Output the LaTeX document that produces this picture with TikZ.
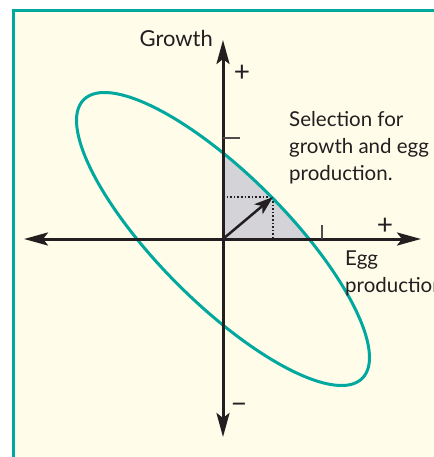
\documentclass[tikz,border=0pt]{standalone}
\usepackage{fontspec}
\setmainfont{Lato}
\usetikzlibrary{arrows.meta}
\definecolor{teal1}{RGB}{0,168,158}
\definecolor{cream}{RGB}{255,252,234}
\definecolor{regfill}{RGB}{212,212,216}
\definecolor{ink}{RGB}{35,31,32}
\tikzset{
  axis/.style={draw=ink, line width=3pt, {Stealth[length=24pt,width=13pt,inset=5pt]}-{Stealth[length=24pt,width=13pt,inset=5pt]}},
  vec/.style={draw=ink, line width=2.5pt, -{Stealth[length=19pt,width=13pt,inset=5pt]}},
  tick/.style={draw=ink!80, line width=1.5pt},
  guide/.style={draw=ink, line width=1.6pt, dotted},
  lbl/.style={font=\fontsize{20.5}{27}\selectfont, text=ink, inner sep=0pt, align=left},
  sign/.style={font=\fontsize{28}{28}\selectfont, text=ink, inner sep=0pt},
  ell/.style={draw=teal1, line width=3pt}
}
\begin{document}
\begin{tikzpicture}[x=1pt,y=-1pt]
\useasboundingbox (0,0) rectangle (433,457);
\fill[white] (0,0) rectangle (433,457);
\draw[fill=cream, draw=teal1, line width=3pt] (13.5,10.5) rectangle (460,480);
\coordinate (O) at (223,239);
\coordinate (P) at (273,197);
\coordinate (PX) at (273,239);
\coordinate (PY) at (223,197);
% shaded quadrant region
\begin{scope}
  \clip (O) rectangle (420,100);
  \fill[regfill, rotate around={-45:(O)}] (O) ellipse [x radius=197, y radius=64];
\end{scope}
% dotted guides
\draw[guide] (PY) -- (P) -- (PX);
% ellipse
\draw[ell, rotate around={-45:(O)}] (O) ellipse [x radius=197, y radius=64];
% axes
\coordinate (T) at (223,40);
\coordinate (B) at (223,437);
\coordinate (L) at (24,239);
\coordinate (R) at (421,239);
\draw[axis] (B) -- (T);
\draw[axis] (L) -- (R);
% ticks
\coordinate (ty) at (223,138);
\coordinate (ty2) at (240,138);
\coordinate (tx) at (322,239);
\coordinate (tx2) at (322,225);
\draw[tick] (ty) -- (ty2);
\draw[tick] (tx) -- (tx2);
% vector
\draw[vec] (O) -- (P);
% labels
\node[lbl, font=\fontsize{22}{27}\selectfont, anchor=base east] (growth) at (213,47) {Growth};
\node[lbl, anchor=base west] (sel) at (289,180) {Selection for\\growth and egg\\production.};
\node[lbl, anchor=base west] (egg) at (345,292) {Egg\\production};
\node[sign] (p1) at (242,73) {+};
\node[sign] (p2) at (385,226) {+};
\node[sign] (m1) at (239,408) {−};
\end{tikzpicture}
\end{document}
